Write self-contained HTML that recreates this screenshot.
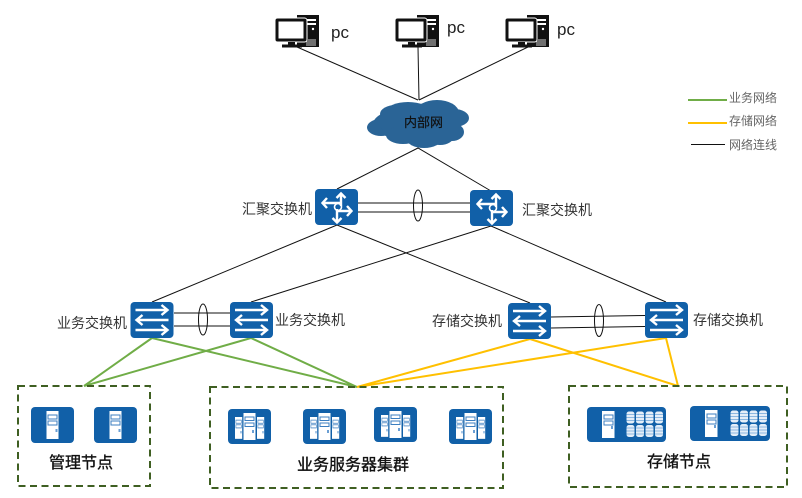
<!DOCTYPE html>
<html>
<head>
<meta charset="utf-8">
<style>
html,body{margin:0;padding:0;background:#fff;width:802px;height:498px;overflow:hidden}
svg{display:block}
text{font-family:"Liberation Sans","Noto Sans CJK SC",sans-serif}
.l{font-size:14px;fill:#333}
.g{font-size:12px;fill:#666}
.t{font-size:16px;fill:#111;stroke:#111;stroke-width:.35}
.p{font-size:17px;fill:#222}
</style>
</head>
<body>
<svg width="802" height="498" viewBox="0 0 802 498" xmlns="http://www.w3.org/2000/svg">
<defs>
<g id="pc">
  <rect x="22" y="0" width="22" height="32" fill="#111"/>
  <rect x="29" y="4" width="12" height="2" fill="#fff"/>
  <rect x="29" y="8" width="12" height="2" fill="#fff"/>
  <circle cx="38" cy="14" r="1.2" fill="#fff"/>
  <path d="M32 31V24M34 31V24M36 31V24M38 31V24M40 31V24" stroke="#fff" stroke-width=".8"/>
  <rect x="0" y="3" width="32" height="24" rx="2.5" fill="#111" stroke="#fff" stroke-width="1"/>
  <rect x="3.500" y="6.500" width="25" height="17" fill="#fff"/>
  <rect x="13" y="27" width="7" height="3" fill="#111"/>
  <rect x="7" y="29.500" width="20" height="3" fill="#111"/>
</g>
<g id="router">
  <rect width="43" height="36" rx="4" fill="#1160a8"/>
  <g stroke="#fff" stroke-width="2.4" fill="none">
    <circle cx="23" cy="18" r="3.500" stroke-width="1.600"/>
    <path d="M26 17V5M21.500 9l4.500-4.500 4.500 4.500"/>
    <path d="M22 22H36M32 17l4.500 5-4.500 5"/>
    <path d="M22 20V33M17.500 29l4.500 4.500 4.500-4.500"/>
    <path d="M25 14H8M12 9l-4.500 5 4.500 5"/>
  </g>
</g>
<g id="sw">
  <rect width="43" height="36" rx="4" fill="#1160a8"/>
  <g stroke="#fff" stroke-width="2.400" fill="none">
    <path d="M5 8H37M31 3l6 5-6 5"/>
    <path d="M38 18H6M12 13l-6 5 6 5"/>
    <path d="M5 28H37M31 23l6 5-6 5"/>
  </g>
</g>
<g id="tower">
  <rect width="12" height="28" fill="#fff"/>
  <rect x="1.500" y="4" width="9" height="4" fill="#fff" stroke="#3d7fc0" stroke-width="1"/>
  <rect x="1.500" y="10" width="9" height="4" fill="#fff" stroke="#3d7fc0" stroke-width="1"/>
  <rect x="9" y="18" width="2" height="3" fill="#6a9fd4"/>
</g>
<g id="srv">
  <rect width="43" height="36" rx="4" fill="#1160a8"/>
  <use href="#tower" x="15.500" y="4"/>
</g>
<g id="cluster">
  <rect width="43" height="35" rx="4" fill="#1160a8"/>
  <g transform="translate(7,8) scale(.6,.78)"><use href="#tower"/></g>
  <g transform="translate(29,8) scale(.6,.78)"><use href="#tower"/></g>
  <rect x="15.500" y="4" width="12" height="27" fill="#fff"/>
  <rect x="17" y="8" width="9" height="3.500" fill="#fff" stroke="#3d7fc0"/>
  <rect x="17" y="14" width="9" height="3.500" fill="#fff" stroke="#3d7fc0"/>
  <rect x="24" y="21" width="2" height="3" fill="#6a9fd4"/>
</g>
<g id="disk">
  <rect width="8" height="12" rx="2.500" fill="#e4eef8"/>
  <path d="M0 3H8M0 6H8M0 9H8" stroke="#6ea5d8" stroke-width=".7"/>
</g>
<g id="disks">
  <use href="#disk" x="0" y="0"/><use href="#disk" x="9.500" y="0"/><use href="#disk" x="19" y="0"/><use href="#disk" x="28.500" y="0"/>
  <use href="#disk" x="0" y="13.500"/><use href="#disk" x="9.500" y="13.500"/><use href="#disk" x="19" y="13.500"/><use href="#disk" x="28.500" y="13.500"/>
</g>
</defs>

<!-- connectors -->
<g stroke="#111" stroke-width="1" fill="none">
  <path d="M297 47L418 100M418 47L419 100M528 47L419 100"/>
  <path d="M337 189L418 148L491 191"/>
  <path d="M358 203H470M358 212H470"/>
  <ellipse cx="418" cy="205.500" rx="4.500" ry="15.500"/>
  <path d="M337 225L152 302M337 225L530 303M491 226L251 302M491 226L666 302"/>
  <path d="M174 313H230M174 326H230"/>
  <ellipse cx="203" cy="319.500" rx="4.500" ry="15.500"/>
  <path d="M551 317L645 315.500M551 328L645 326.500"/>
  <ellipse cx="599" cy="320.500" rx="4.500" ry="16"/>
</g>
<g stroke="#70ad47" stroke-width="2" fill="none">
  <path d="M152 338L84 386M152 338L357 387M251 338L84 386M251 338L357 387"/>
</g>
<g stroke="#ffc000" stroke-width="2" fill="none">
  <path d="M530 339L357 387M530 339L678 386M666 338L357 387M666 338L678 386"/>
</g>

<!-- PCs -->
<use href="#pc" x="275" y="15"/>
<use href="#pc" x="395" y="15"/>
<use href="#pc" x="505" y="15"/>
<text class="p" x="331" y="38">pc</text>
<text class="p" x="447" y="33">pc</text>
<text class="p" x="557" y="35">pc</text>

<!-- cloud -->
<g fill="#2a6496">
  <ellipse cx="417" cy="124" rx="44" ry="17"/>
  <ellipse cx="437" cy="113" rx="22" ry="13"/>
  <ellipse cx="408" cy="112" rx="22" ry="10"/>
  <ellipse cx="396" cy="114" rx="16" ry="9"/>
  <ellipse cx="381" cy="127.500" rx="14" ry="8.500"/>
  <ellipse cx="392" cy="122" rx="14" ry="10"/>
  <ellipse cx="454" cy="118" rx="15" ry="9"/>
  <ellipse cx="452" cy="132" rx="12" ry="9"/>
  <ellipse cx="424" cy="138" rx="18" ry="10"/>
  <ellipse cx="403" cy="135" rx="17" ry="9"/>
  <ellipse cx="440" cy="136" rx="14" ry="9"/>
</g>
<text x="404" y="127" font-size="13" fill="#111" stroke="#111" stroke-width=".2">内部网</text>

<!-- core/aggregation -->
<use href="#router" x="315" y="189"/>
<use href="#router" x="470" y="190"/>
<text class="l" x="242" y="214">汇聚交换机</text>
<text class="l" x="522" y="215">汇聚交换机</text>

<!-- access -->
<use href="#sw" x="130.500" y="302"/>
<use href="#sw" x="230" y="302"/>
<use href="#sw" x="508" y="303"/>
<use href="#sw" x="645" y="302"/>
<text class="l" x="57" y="328">业务交换机</text>
<text class="l" x="275" y="325">业务交换机</text>
<text class="l" x="432" y="326">存储交换机</text>
<text class="l" x="693" y="325">存储交换机</text>

<!-- groups -->
<g fill="none" stroke="#3f5f22" stroke-width="2" stroke-dasharray="7 4.500">
  <rect x="18" y="386" width="132" height="100"/>
  <rect x="210" y="387" width="293" height="101"/>
  <rect x="569" y="386" width="218" height="101"/>
</g>

<use href="#srv" x="31" y="407"/>
<use href="#srv" x="94" y="407"/>
<use href="#cluster" x="228" y="409"/>
<use href="#cluster" x="303" y="409"/>
<use href="#cluster" x="374" y="407"/>
<use href="#cluster" x="449" y="409"/>

<rect x="587" y="407" width="79" height="35" rx="4" fill="#1160a8"/>
<rect x="602" y="411" width="12.500" height="27" fill="#fff"/>
<rect x="604" y="415" width="9" height="4" fill="#fff" stroke="#3d7fc0"/>
<rect x="604" y="421" width="9" height="4" fill="#fff" stroke="#3d7fc0"/>
<rect x="611" y="426" width="2" height="3" fill="#6a9fd4"/>
<use href="#disks" x="626.500" y="411.500"/>

<rect x="690" y="406" width="80" height="35" rx="4" fill="#1160a8"/>
<rect x="705" y="410" width="12.500" height="27" fill="#fff"/>
<rect x="707" y="414" width="9" height="4" fill="#fff" stroke="#3d7fc0"/>
<rect x="707" y="420" width="9" height="4" fill="#fff" stroke="#3d7fc0"/>
<rect x="714" y="425" width="2" height="3" fill="#6a9fd4"/>
<use href="#disks" x="730.500" y="410.500"/>

<text class="t" x="49" y="468">管理节点</text>
<text class="t" x="297" y="470">业务服务器集群</text>
<text class="t" x="647" y="467">存储节点</text>

<!-- legend -->
<path d="M688 100H727" stroke="#70ad47" stroke-width="2"/>
<path d="M688 123H727" stroke="#ffc000" stroke-width="2"/>
<path d="M691 144.500H725" stroke="#111" stroke-width="1"/>
<text class="g" x="729" y="102">业务网络</text>
<text class="g" x="729" y="125">存储网络</text>
<text class="g" x="729" y="149">网络连线</text>
</svg>
</body>
</html>
